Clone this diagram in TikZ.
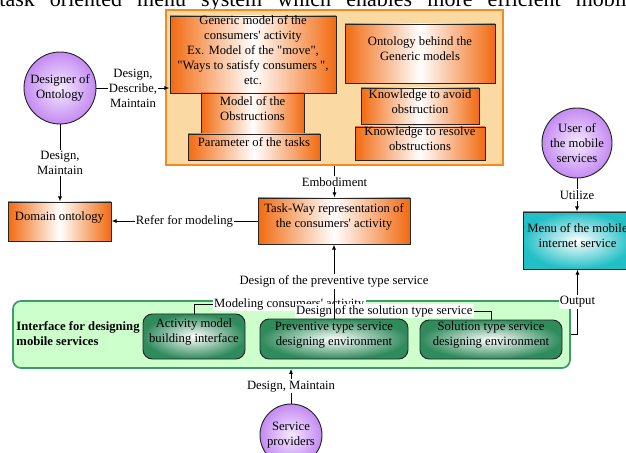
\documentclass[tikz,border=0pt]{standalone}
\usepackage{fontspec}
\setmainfont{Liberation Serif}
\usetikzlibrary{fit,arrows.meta}
\newcommand{\dfont}{\fontsize{9.5}{11.25}\selectfont}
\newcommand{\sq}{\textquotesingle}
\newcommand{\dq}{\textquotedbl}
\definecolor{orangeE}{HTML}{F26A10}
\definecolor{areaFill}{HTML}{FADAA2}
\definecolor{areaLine}{HTML}{F7891F}
\definecolor{panelFill}{HTML}{CCFFCC}
\definecolor{panelLine}{HTML}{3C9C6C}
\definecolor{greenE}{HTML}{2F8A5C}
\definecolor{purpleE}{HTML}{C48AF2}
\definecolor{purpleI}{HTML}{F5EAFF}
\definecolor{cyanE}{HTML}{22BFC6}

\begin{document}
\begin{tikzpicture}[x=0.75pt,y=-0.75pt,font=\dfont,>={Latex[length=3.8pt,width=3pt]},line width=0.7pt]
    \tikzstyle{area}=[draw=areaLine, line width=1.3pt, fill=areaFill, inner sep=0pt]
    \tikzstyle{obox}=[draw=black!85, inner sep=0pt, align=center, left color=orangeE, right color=orangeE, middle color=white]
    \tikzstyle{cbox}=[draw=black!85, inner sep=0pt, align=center, inner color=white, outer color=cyanE]
    \tikzstyle{panel}=[draw=panelLine, line width=1.3pt, fill=panelFill, rounded corners=6pt, inner sep=0pt]
    \tikzstyle{gbox}=[draw=black!85, rounded corners=7pt, inner sep=0pt, align=center, inner color=white, outer color=greenE]
    \tikzstyle{actor}=[circle, draw=black!85, align=center, inner sep=0pt, minimum size=54pt, inner color=purpleI, outer color=purpleE]
    \tikzstyle{lbl}=[fill=white, inner sep=1pt, align=center]

    \useasboundingbox (0,0) rectangle (626,453);
    \clip (0,0) rectangle (626,453);

    % running text of the page above the figure
    \node[anchor=base west, inner sep=0pt, font=\fontsize{16.5}{18}\selectfont] (pagetext) at (-1,7)
        {\makebox[478pt][s]{task oriented menu system which enables more efficient mobile}};

    % consumers' activity models
    \node[area, fit={(166,10) (503,165)}] (modelarea) {};
    \node[obox, fit={(170,16) (336,93)}] (generic) {Generic model of the\\consumers\sq{} activity\\Ex. Model of the \dq move\dq,\\\dq Ways to satisfy consumers \dq,\\etc.};
    \node[obox, fit={(201,93) (304,134)}] (obstr) {Model of the\\Obstructions};
    \node[obox, fit={(188,134) (320,160)}] (param) {Parameter of the tasks};
    \node[obox, fit={(345,24) (495,83)}] (onto) {Ontology behind the\\Generic models};
    \node[obox, fit={(361,88) (479,124)}] (avoid) {Knowledge to avoid\\obstruction};
    \node[obox, fit={(355,127) (485,160)}] (resolve) {Knowledge to resolve\\obstructions};

    \node[actor] (designer) at (60,88) {Designer of\\Ontology};
    \node[obox, fit={(8,202) (111,241)}] (domain) {Domain ontology};
    \node[obox, fit={(258,198) (410,244)}] (taskway) {Task-Way representation of\\the consumers\sq{} activity};

    \node[actor, minimum size=52.5pt] (user) at (577,143) {User of\\the mobile\\services};
    \node[cbox, fit={(523,212) (632,269)}] (menu) {Menu of the mobile\\internet service};

    % design interface
    \node[panel, fit={(13,301) (570,368)}] (iface) {};
    \node[anchor=west, align=left, inner sep=0pt, font=\dfont\bfseries] (ifacetitle) at (16,334) {Interface for designing\\mobile services};
    \node[gbox, fit={(143,314) (245,359)}] (actmodel) {Activity model\\building interface};
    \node[gbox, fit={(260,319) (408,359)}] (prevenv) {Preventive type service\\designing environment};
    \node[gbox, fit={(420,320) (562,359)}] (solenv) {Solution type service\\designing environment};

    \node[actor, minimum size=46.5pt] (provider) at (291,435) {Service\\providers};

    % connectors
    \draw[->] (designer.east) -- node[lbl] {Design,\\Describe,\\Maintain} (designer.east -| generic.west);
    \draw[->] (designer.south) -- node[lbl] {Design,\\Maintain} (designer.south |- domain.north);
    \draw[->] (taskway.west) -- node[lbl] {Refer for modeling} (taskway.west -| domain.east);
    \draw[->] (modelarea.south) -- node[lbl] {Embodiment} (modelarea.south |- taskway.north);
    \draw[->] (user.south) -- node[lbl] {Utilize} (user.south |- menu.north);
    \draw[->] (iface.east) -| node[lbl, pos=0.75] {Output} (menu.south);
    \draw[->] (provider.north) -- node[lbl] {Design, Maintain} (provider.north |- iface.south);

    \coordinate (mjoin) at (334,304);
    \coordinate (sjoin) at (334,311);
    \draw (actmodel.north) |- node[lbl, pos=0.84] {Modeling consumers\sq{} activity} (mjoin);
    \draw (solenv.north) |- node[lbl, pos=0.84] {Design of the solution type service} (sjoin);
    \draw[->] (prevenv.north) -- node[lbl] {Design of the preventive type service} (taskway.south);
\end{tikzpicture}
\end{document}
